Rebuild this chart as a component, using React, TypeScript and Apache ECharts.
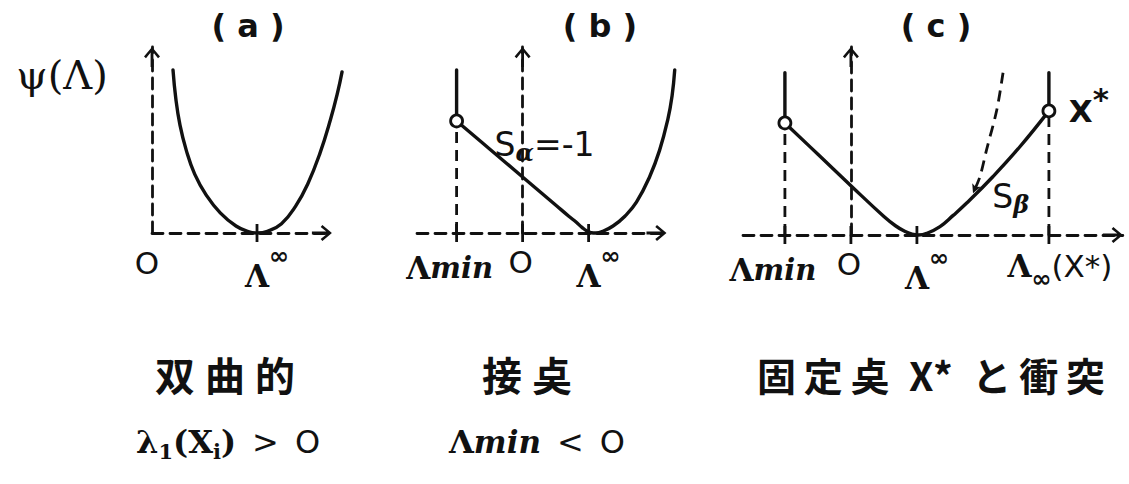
import React, { useEffect, useRef } from 'react';
import * as echarts from 'echarts';

type Pt = [number, number];

// ---------- (a) hyperbolic: ψ(Λ) has its minimum at Λ∞ > 0 ----------
const aTicks = [3];
const aTickNames = ['Λ∞'];
const aXRange: Pt = [0, 5.14];
const aPlotXMax = 5.7;
const aYMax = 6.64;
const aCurve: Pt[] = [
  [0.6, 5.82], [0.68, 4.8], [0.8, 3.85], [0.98, 2.95], [1.22, 2.1], [1.55, 1.35], [1.95, 0.72],
  [2.4, 0.25], [2.75, 0.05], [3.0, 0], [3.3, 0.06], [3.7, 0.33], [4.1, 0.95], [4.45, 1.75],
  [4.8, 2.85], [5.1, 4.05], [5.3, 5.0], [5.43, 5.75],
];

// ---------- (b) tangency: Λmin < 0, slope Sα = -1 from the end point ----------
const bTicks = [-2, 0, 2];
const bTickNames = ['Λmin', 'O', 'Λ∞'];
const bXRange: Pt = [-3.2, 4.36];
const bPlotXMax = 4.9;
const bYMax = 6.64;
const bEndpoints: Pt[] = [[-2, 4]];
const bStemTop = 5.82;
const bCurve: Pt[] = [
  [-2, 4], [-1, 3], [0, 2], [1, 1], [1.4, 0.6], [1.62, 0.39], [1.8, 0.2], [1.95, 0.07],
  [2.08, 0.01], [2.22, 0], [2.45, 0.07], [2.74, 0.25], [3.1, 0.6], [3.45, 1.1], [3.85, 2.01],
  [4.15, 2.95], [4.4, 4.05], [4.53, 4.9], [4.61, 5.82],
];
const bSlopeAnchor: Pt = [0, 2];

// ---------- (c) collision with the fixed point X* ----------
const cTicks = [-2, 0, 2, 6];
const cTickNames = ['Λmin', 'O', 'Λ∞', 'Λ∞(X*)'];
const cXRange: Pt = [-3.27, 8.24];
const cPlotXMax = 8.24;
const cYMax = 6.71;
const cEndpoints: Pt[] = [[-2, 4], [6, 4.43]];
const cStemTop = 5.79;
const cCurve: Pt[] = [
  [-2, 4], [-1, 2.88], [0, 1.76], [1, 0.66], [1.35, 0.33], [1.63, 0.13], [1.85, 0.03], [2.05, 0],
  [2.3, 0.06], [2.7, 0.3], [3.1, 0.7], [3.5, 1.13], [4.3, 2.08], [5.12, 3.15], [6, 4.43],
];
const cParabola: Pt[] = [[4.61, 5.79], [4.42, 4.46], [4.11, 3.04], [3.91, 2.08], [3.7, 1.49]];
const cSlopeAnchor: Pt = [4.3, 2.08];

// ---------- text ----------
const titles = ['( a )', '( b )', '( c )'];
const yName = 'ψ(Λ)';
const captions = ['双\u2005曲\u2005的', '接\u2005奌', '固\u2009定\u2009奌\u2002X*\u2002と\u2009衝\u2009突'];

// ---------- styling ----------
const INK = '#111';
const SERIF = 'DejaVu Serif';
const SANS = 'DejaVu Sans';
const CJK = 'Noto Sans CJK JP';
const DASH = [11, 7];
// open arrow head with a short stem, drawn pointing up (the axis rotates it)
const ARROW = 'path://M8,0L16,9.5L14,11.2L9.4,5.6L9.4,20L6.6,20L6.6,5.6L2,11.2L0,9.5Z';

// panel frames: axis origin row (px), unit sizes shared by the axis grid and the plot grid
const frames = [
  { left: 152, top: 47, height: 186 },
  { left: 417, top: 47, height: 186 },
  { left: 743, top: 47, height: 188 },
];
const xUnits = [35, 33.0, 33.0];

const rich: Record<string, any> = {
  L: { fontFamily: SERIF, fontSize: 31, fontWeight: 'bold', lineHeight: 64, color: INK },
  Lm: { fontFamily: SERIF, fontSize: 31, fontWeight: 'bold', lineHeight: 40, color: INK },
  Ls: { fontFamily: SERIF, fontSize: 31, fontWeight: 'bold', lineHeight: 50, color: INK },
  sup: { fontFamily: SANS, fontSize: 24, fontWeight: 'bold', verticalAlign: 'top', color: INK },
  sub: { fontFamily: SANS, fontSize: 24, fontWeight: 'bold', verticalAlign: 'bottom', color: INK },
  it: { fontFamily: SERIF, fontStyle: 'italic', fontWeight: 'bold', fontSize: 29, lineHeight: 40, color: INK },
  O: { fontFamily: SANS, fontSize: 31, color: INK },
  S: { fontFamily: SANS, fontSize: 33, lineHeight: 40, color: INK },
  X: { fontFamily: SANS, fontSize: 31, fontWeight: 'bold', lineHeight: 54, color: INK },
  st: { fontFamily: SANS, fontSize: 31, fontWeight: 'bold', verticalAlign: 'top', color: INK },
  g: { fontFamily: SERIF, fontStyle: 'italic', fontWeight: 'bold', fontSize: 24, verticalAlign: 'bottom', color: INK },
  m: { fontFamily: SERIF, fontSize: 32, fontWeight: 'bold', lineHeight: 40, color: INK },
  s: { fontFamily: SERIF, fontSize: 21, fontWeight: 'bold', verticalAlign: 'bottom', color: INK },
  o: { fontFamily: SANS, fontSize: 32, lineHeight: 40, color: INK },
  mi: { fontFamily: SERIF, fontStyle: 'italic', fontWeight: 'bold', fontSize: 31, lineHeight: 40, color: INK },
};

// rich-text markup for each label name
const markup: Record<string, string> = {
  'O': '{O|O}',
  'Λ∞': '{L|Λ}{sup|∞}',
  'Λmin': '{Lm|Λ}{it|min}',
  'Λ∞(X*)': '{Ls|Λ}{sub|∞}{O|(X*)}',
  'X*': '{X|X}{st|*}',
  'Sα=-1': '{S|S}{g|α}{S|=-1}',
  'Sβ': '{S|S}{g|β}',
};

// label placement relative to its anchor point, per panel
const offsets: Record<string, Pt>[] = [
  { 'O': [-5, 30], 'Λ∞': [10, 43] },
  { 'O': [-2, 29], 'Λ∞': [10, 43], 'Λmin': [-7, 35], 'Sα=-1': [22, -32] },
  { 'O': [-2, 29], 'Λ∞': [10, 43], 'Λmin': [-12, 35], 'Λ∞(X*)': [11, 31], 'X*': [40, 0], 'Sβ': [18, 20] },
];

const hiddenAxis = {
  show: false,
  axisLine: { show: false },
  axisTick: { show: false },
  axisLabel: { show: false },
  splitLine: { show: false },
};

// visible dashed axes with open arrow heads
function axisPair(grid: number, xr: Pt, yMax: number) {
  const axisLine = {
    show: true,
    onZero: true,
    symbol: ['none', ARROW],
    symbolSize: [16, 20],
    symbolOffset: [0, -10],
    lineStyle: { color: INK, width: 2.8, type: DASH },
  };
  const common = {
    type: 'value',
    gridIndex: grid,
    axisLine,
    axisTick: { show: false },
    axisLabel: { show: false },
    splitLine: { show: false },
  };
  return { x: { ...common, min: xr[0], max: xr[1] }, y: { ...common, min: 0, max: yMax } };
}

// plot axes: same origin and unit, wider reach so the curves are never cut off
function plotPair(grid: number, xMin: number, xMax: number, yMax: number) {
  return {
    x: { type: 'value', gridIndex: grid, min: xMin, max: xMax, ...hiddenAxis },
    y: { type: 'value', gridIndex: grid, min: 0, max: yMax, ...hiddenAxis },
  };
}

const P = 3; // first plot grid index

function solid(panel: number, data: Pt[], extra: any = {}) {
  return {
    type: 'line', xAxisIndex: P + panel, yAxisIndex: P + panel, data, symbol: 'none', clip: false, silent: true,
    smooth: 0.45, z: 3,
    lineStyle: { color: INK, width: 3.4, cap: 'round', join: 'round', opacity: 1 },
    ...extra,
  };
}

function dashed(panel: number, data: any[], extra: any = {}) {
  return {
    type: 'line', xAxisIndex: P + panel, yAxisIndex: P + panel, data, symbol: 'none', clip: false, silent: true, z: 2,
    lineStyle: { color: INK, width: 2.8, type: DASH, opacity: 1 },
    ...extra,
  };
}

function ticks(panel: number, xs: number[]) {
  return {
    type: 'scatter', xAxisIndex: P + panel, yAxisIndex: P + panel, clip: false, silent: true, z: 3,
    symbol: 'rect', symbolSize: [2.8, 18], itemStyle: { color: INK, opacity: 1 },
    data: xs.map((x) => [x, 0]),
  };
}

function circles(panel: number, pts: Pt[]) {
  return {
    type: 'scatter', xAxisIndex: P + panel, yAxisIndex: P + panel, clip: false, silent: true, z: 5,
    symbol: 'circle', symbolSize: 12,
    itemStyle: { color: '#fff', borderColor: INK, borderWidth: 2.8, opacity: 1 },
    data: pts,
  };
}

function labels(panel: number, items: { name: string; at: Pt }[]) {
  return {
    type: 'scatter', xAxisIndex: P + panel, yAxisIndex: P + panel, clip: false, silent: true, z: 6,
    symbol: 'circle', symbolSize: 1, itemStyle: { color: 'rgba(0,0,0,0)', opacity: 1 },
    label: { show: true, position: 'inside', color: INK, opacity: 1, textBorderWidth: 0, rich },
    data: items.map(({ name, at }) => ({
      value: at,
      name,
      label: { formatter: markup[name], offset: offsets[panel][name] },
    })),
  };
}

function vertical(x: number, y0: number, y1: number): Pt[] {
  return [[x, y0], [x, y1]];
}

function text(x: number, y: number, content: string, style: any, align = 'center') {
  return {
    type: 'text', x, y, silent: true,
    style: {
      text: content, fill: INK, align, verticalAlign: 'middle',
      textAlign: align, textVerticalAlign: 'middle', ...style,
    },
  };
}

function buildOption() {
  const ranges: Pt[] = [aXRange, bXRange, cXRange];
  const plotMax = [aPlotXMax, bPlotXMax, cPlotXMax];
  const yMaxes = [aYMax, bYMax, cYMax];

  const axisGrids = frames.map((f, i) => ({
    left: f.left, top: f.top, height: f.height,
    width: (ranges[i][1] - ranges[i][0]) * xUnits[i],
    containLabel: false, outerBoundsMode: 'none',
  }));
  const plotGrids = frames.map((f, i) => ({
    left: f.left, top: f.top, height: f.height,
    width: (plotMax[i] - ranges[i][0]) * xUnits[i],
    containLabel: false, outerBoundsMode: 'none',
  }));

  const visible = ranges.map((r, i) => axisPair(i, r, yMaxes[i]));
  const plots = ranges.map((r, i) => plotPair(P + i, r[0], plotMax[i], yMaxes[i]));

  const tickLabelItems = (xs: number[], names: string[]) =>
    xs.map((x, i) => ({ name: names[i], at: [x, 0] as Pt }));

  const series: any[] = [
    // (a)
    solid(0, aCurve),
    ticks(0, aTicks),
    labels(0, [{ name: 'O', at: [0, 0] }, ...tickLabelItems(aTicks, aTickNames)]),

    // (b)
    dashed(1, vertical(bEndpoints[0][0], 0, bEndpoints[0][1])),
    solid(1, vertical(bEndpoints[0][0], bEndpoints[0][1], bStemTop), { smooth: false }),
    solid(1, bCurve),
    ticks(1, bTicks),
    circles(1, bEndpoints),
    labels(1, [...tickLabelItems(bTicks, bTickNames), { name: 'Sα=-1', at: bSlopeAnchor }]),

    // (c)
    ...cEndpoints.map((p) => dashed(2, vertical(p[0], 0, p[1]))),
    ...cEndpoints.map((p) => solid(2, vertical(p[0], p[1], cStemTop), { smooth: false })),
    solid(2, cCurve),
    dashed(2, cParabola.map((p, i) =>
      i === cParabola.length - 1
        ? { value: p, symbol: 'arrow', symbolSize: [7, 9], symbolRotate: 157, itemStyle: { color: INK, opacity: 1 } }
        : p), { smooth: 0.3, showSymbol: true }),
    ticks(2, cTicks),
    circles(2, cEndpoints),
    labels(2, [
      ...tickLabelItems(cTicks, cTickNames),
      { name: 'X*', at: cEndpoints[1] },
      { name: 'Sβ', at: cSlopeAnchor },
    ]),
  ];

  const graphic = [
    text(248, 26, titles[0], { fontFamily: SANS, fontSize: 32, fontWeight: 'bold' }),
    text(600, 26, titles[1], { fontFamily: SANS, fontSize: 32, fontWeight: 'bold' }),
    text(936, 26, titles[2], { fontFamily: SANS, fontSize: 32, fontWeight: 'bold' }),
    text(62, 75, yName, { fontFamily: SERIF, fontSize: 40 }),
    text(225, 374, captions[0], { fontFamily: CJK, fontSize: 40, fontWeight: 'bold' }),
    text(527, 374, captions[1], { fontFamily: CJK, fontSize: 40, fontWeight: 'bold' }),
    text(757, 374, captions[2], { fontFamily: CJK, fontSize: 39, fontWeight: 'bold' }, 'left'),
    text(228, 442, '{m|λ}{s|1}{m|(X}{s|i}{m|)}{o|\u2002>\u2002O}', { rich }),
    text(537, 442, '{m|Λ}{mi|min}{o|\u2002<\u2002O}', { rich }),
  ];

  return {
    animation: false,
    backgroundColor: '#fff',
    textStyle: { fontFamily: SANS },
    grid: [...axisGrids, ...plotGrids],
    xAxis: [...visible.map((v) => v.x), ...plots.map((p) => p.x)],
    yAxis: [...visible.map((v) => v.y), ...plots.map((p) => p.y)],
    series,
    graphic,
  };
}

export default function App() {
  const ref = useRef<HTMLDivElement>(null);
  useEffect(() => {
    if (!ref.current) return;
    const chart = echarts.init(ref.current, null, { renderer: 'svg' });
    chart.setOption(buildOption() as any);
    return () => chart.dispose();
  }, []);
  return (
    <div
      ref={ref}
      style={{ position: 'fixed', left: 0, top: 0, width: 1129, height: 484, background: '#fff' }}
    />
  );
}
